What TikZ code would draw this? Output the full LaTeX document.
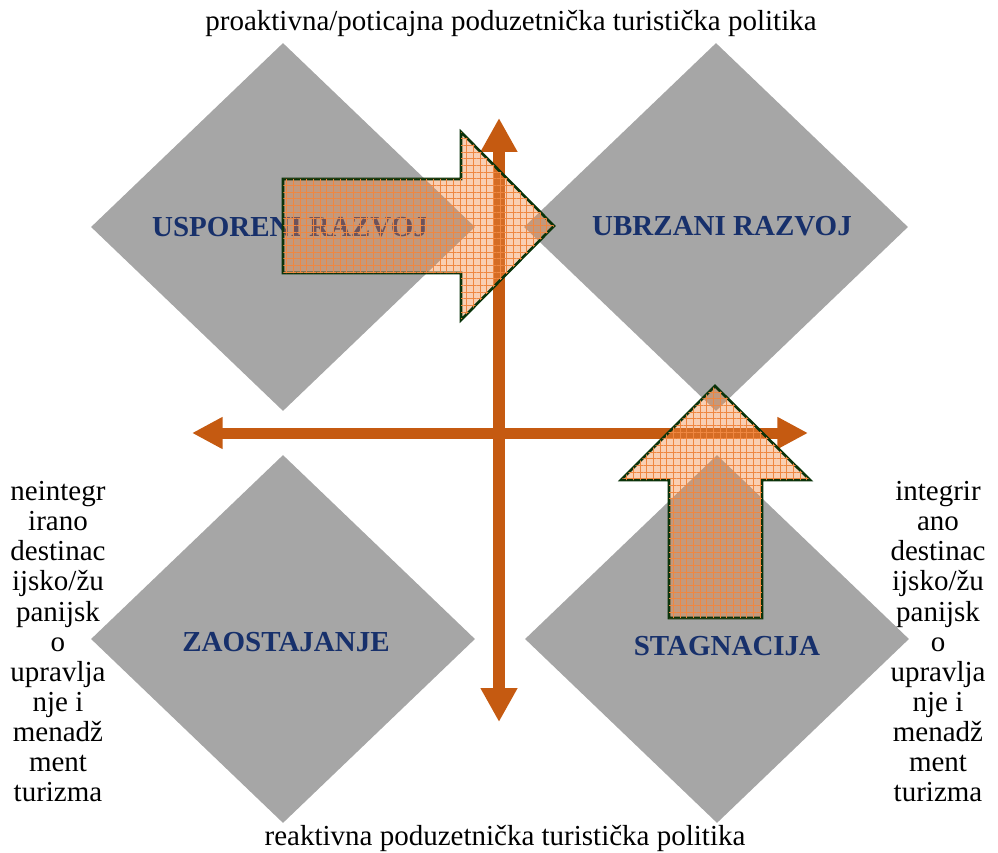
\documentclass[tikz,border=0pt]{standalone}
\usepackage{fontspec}
\setmainfont{Liberation Serif}
\usetikzlibrary{shapes.geometric,arrows.meta,patterns.meta}
\definecolor{quadgray}{HTML}{A6A6A6}
\definecolor{axisorange}{HTML}{C55A11}
\definecolor{arrowfill}{HTML}{EF8741}
\definecolor{arrowline}{HTML}{0A330A}
\definecolor{labelblue}{HTML}{17306B}

\begin{document}
\begin{tikzpicture}[x=0.75pt,y=-0.75pt,
	quad/.style={diamond,fill=quadgray,inner sep=0pt,minimum width=288pt,minimum height=276pt},
	quadlabel/.style={anchor=base,text=labelblue,inner sep=0pt,font=\fontsize{21.75}{26}\selectfont\bfseries},
	policy/.style={anchor=base,inner sep=0pt,font=\fontsize{21.75}{26}\selectfont},
	mgmt/.style={anchor=north,align=center,inner sep=0pt,font=\fontsize{21.75}{22.6}\selectfont},
	axis/.style={draw=axisorange,line width=9pt,>={Triangle[length=25.5pt,width=26pt]},<->},
	movearrow/.style={draw=arrowline,line width=2pt,miter limit=10,fill=arrowfill,fill opacity=0.4,
		postaction={pattern={Hatch[angle=0,distance=5pt,line width=0.4pt]},pattern color=arrowfill,fill opacity=0.3}}]
		\useasboundingbox (0,0) rectangle (998,852);

		% four fields
		\node[quad] (uspor) at (283,227) {};
		\node[quad] (ubrz) at (716,227) {};
		\node[quad] (zaost) at (283,639) {};
		\node[quad] (stagn) at (717,639) {};

		\node[quadlabel] (usporlbl) at (290,237) {USPORENI RAZVOJ};
		\node[quadlabel] (ubrzlbl) at (722,235) {UBRZANI RAZVOJ};
		\node[quadlabel] (zaostlbl) at (286,651) {ZAOSTAJANJE};
		\node[quadlabel] (stagnlbl) at (727,655) {STAGNACIJA};

		% policy and management texts
		\node[policy] (proakt) at (511,31) {proaktivna/poticajna poduzetnička turistička politika};
		\node[policy] (reakt) at (505,845) {reaktivna poduzetnička turistička politika};
		\node[mgmt] (neint) at (58,481) {neintegr\\irano\\destinac\\ijsko/žu\\panijsk\\o\\upravlja\\nje i\\menadž\\ment\\turizma};
		\node[mgmt] (integ) at (938,481) {integrir\\ano\\destinac\\ijsko/žu\\panijsk\\o\\upravlja\\nje i\\menadž\\ment\\turizma};

		% axes
		\coordinate (axtop) at (499,118);
		\coordinate (axbot) at (499,722);
		\coordinate (axleft) at (192,433);
		\coordinate (axright) at (808,433);
		\draw[axis] (axbot) -- (axtop);
		\draw[axis,line width=8.25pt,>={Triangle[length=23pt,width=22.5pt]}] (axleft) -- (axright);

		% shifts between fields
		\draw[movearrow] (283,179) -- (461,179) -- (461,132) -- (554,226) -- (461,320) -- (461,273) -- (283,273) -- cycle;
		\draw[movearrow] (669,618) -- (669,480) -- (621,480) -- (715,386) -- (810,480) -- (762,480) -- (762,618) -- cycle;
	\end{tikzpicture}
\end{document}
